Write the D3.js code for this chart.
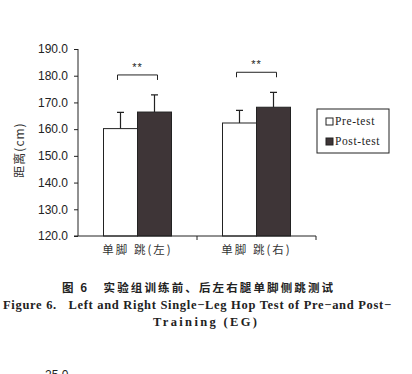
<!DOCTYPE html>
<html>
<head>
<meta charset="utf-8">
<script src="https://cdn.jsdelivr.net/npm/d3@7"></script>
<style>
  body { margin: 0; background: #fff; }
  svg { display: block; }
</style>
</head>
<body>
<div id="chart"></div>
<script>
(function(){

    // data
    var categories = ["单脚 跳(左)", "单脚 跳(右)"];
    var series = ["Pre-test", "Post-test"];
    var preMean = [160.2, 162.3];
    var preErr = [6.1, 4.7];
    var postMean = [166.4, 168.2];
    var postErr = [6.4, 5.6];
    var sigMarks = ["**", "**"];
    var yTicks = [120, 130, 140, 150, 160, 170, 180, 190];

    var width = 412, height = 374;
    var svg = d3.select("#chart").append("svg")
        .attr("width", width)
        .attr("height", height);

    var x0 = d3.scaleBand().domain(categories).range([78, 316]);
    var x1 = d3.scaleBand().domain(series)
        .range([x0.bandwidth() / 2 - 34, x0.bandwidth() / 2 + 34]);
    var y = d3.scaleLinear().domain([120, 190]).range([236, 49]);

    var colors = {"Pre-test": "#ffffff", "Post-test": "#3e3537"};

    var rows = categories.map(function(c, i){
        return {cat: c, vals: [
            {s: "Pre-test", v: preMean[i], e: preErr[i]},
            {s: "Post-test", v: postMean[i], e: postErr[i]}
        ], sig: sigMarks[i]};
    });

    // y axis
    var yAxis = svg.append("g")
        .attr("transform", "translate(78,0)")
        .call(d3.axisLeft(y).tickValues(yTicks).tickSize(4).tickPadding(6)
            .tickFormat(d3.format(".1f")));
    yAxis.select(".domain").attr("stroke", "#222").attr("d", "M0," + y(190) + "V" + y(120));
    yAxis.selectAll(".tick line").attr("stroke", "#222");
    yAxis.selectAll("text")
        .attr("font-family", "'Liberation Sans', Arial, sans-serif")
        .attr("font-size", "12px")
        .attr("fill", "#222");

    svg.append("text")
        .attr("transform", "translate(24,150) rotate(-90)")
        .attr("text-anchor", "middle")
        .attr("font-family", "'Noto Sans CJK SC', sans-serif")
        .attr("font-size", "12px")
        .attr("letter-spacing", "1px")
        .attr("fill", "#333")
        .text("距离(cm)");

    // bars
    var groups = svg.append("g").selectAll("g")
        .data(rows).enter().append("g")
        .attr("transform", function(d){ return "translate(" + x0(d.cat) + ",0)"; });

    groups.selectAll("rect")
        .data(function(d){ return d.vals; }).enter().append("rect")
        .attr("x", function(d){ return x1(d.s); })
        .attr("y", function(d){ return y(d.v); })
        .attr("width", x1.bandwidth())
        .attr("height", function(d){ return y(120) - y(d.v); })
        .attr("fill", function(d){ return colors[d.s]; })
        .attr("stroke", "#222")
        .attr("stroke-width", 1);

    // error bars, upward only
    groups.selectAll("path.err")
        .data(function(d){ return d.vals; }).enter().append("path")
        .attr("class", "err")
        .attr("fill", "none")
        .attr("stroke", "#222")
        .attr("stroke-width", 1.2)
        .attr("d", function(d){
            var cx = x1(d.s) + x1.bandwidth() / 2;
            return "M" + cx + "," + y(d.v) + "V" + y(d.v + d.e) +
                "M" + (cx - 3.5) + "," + y(d.v + d.e) + "H" + (cx + 3.5);
        });

    // significance brackets
    groups.append("path")
        .attr("fill", "none")
        .attr("stroke", "#222")
        .attr("d", function(d){
            var top = d3.max(d.vals, function(v){ return v.v + v.e; });
            var yy = y(top) - 20;
            var a = x1("Pre-test") + 14, b = x1("Post-test") + x1.bandwidth() - 14;
            return "M" + a + "," + (yy + 5) + "V" + yy + "H" + b + "V" + (yy + 5);
        });
    groups.append("text")
        .attr("x", x0.bandwidth() / 2)
        .attr("y", function(d){
            var top = d3.max(d.vals, function(v){ return v.v + v.e; });
            return y(top) - 24;
        })
        .attr("text-anchor", "middle")
        .attr("font-family", "'Liberation Sans', Arial, sans-serif")
        .attr("font-size", "11px")
        .attr("letter-spacing", "1px")
        .attr("fill", "#222")
        .text(function(d){ return d.sig; });

    // x axis
    var xAxis = svg.append("g")
        .attr("transform", "translate(0,236)")
        .call(d3.axisBottom(x0).tickSize(0).tickPadding(10));
    xAxis.select(".domain").attr("stroke", "#222").attr("d", "M74,0H316");
    xAxis.selectAll("text")
        .attr("font-family", "'Noto Sans CJK SC', sans-serif")
        .attr("font-size", "11.5px")
        .attr("letter-spacing", "2px")
        .attr("fill", "#333");
    xAxis.selectAll(".bnd")
        .data(categories.slice(1).concat(["end"])).enter().append("line")
        .attr("x1", function(d, i){ return x0.range()[0] + x0.bandwidth() * (i + 1); })
        .attr("x2", function(d, i){ return x0.range()[0] + x0.bandwidth() * (i + 1); })
        .attr("y1", 0).attr("y2", 4)
        .attr("stroke", "#222");

    // legend
    var leg = svg.append("g").attr("transform", "translate(317,109)");
    leg.append("rect")
        .attr("width", 72).attr("height", 44)
        .attr("fill", "#fff").attr("stroke", "#222");
    var li = leg.selectAll("g.item").data(series).enter().append("g")
        .attr("transform", function(d, i){ return "translate(9," + (9 + i * 20) + ")"; });
    li.append("rect")
        .attr("width", 7).attr("height", 7)
        .attr("fill", function(d){ return colors[d]; })
        .attr("stroke", "#222");
    li.append("text")
        .attr("x", 9).attr("y", 7)
        .attr("font-family", "'Liberation Serif', 'Times New Roman', serif")
        .attr("font-size", "11.5px")
        .attr("letter-spacing", "0.6px")
        .attr("fill", "#222")
        .text(function(d){ return d; });

    // captions
    svg.append("text")
        .attr("x", 62).attr("y", 292)
        .attr("textLength", 271)
        .attr("lengthAdjust", "spacing")
        .attr("font-family", "'Noto Sans CJK SC', sans-serif")
        .attr("font-size", "11.5px")
        .attr("font-weight", "bold")
        .attr("fill", "#222")
        .text("图 6\u00a0\u00a0\u00a0实验组训练前、后左右腿单脚侧跳测试");
    svg.append("text")
        .attr("x", 3).attr("y", 309)
        .attr("textLength", 388)
        .attr("lengthAdjust", "spacing")
        .attr("font-family", "'Liberation Serif', 'Times New Roman', serif")
        .attr("font-size", "12.5px")
        .attr("font-weight", "bold")
        .attr("fill", "#222")
        .attr("xml:space", "preserve")
        .text("Figure 6.   Left and Right Single\u2212Leg Hop Test of Pre\u2212and Post\u2212");
    svg.append("text")
        .attr("x", 153).attr("y", 326)
        .attr("textLength", 104)
        .attr("lengthAdjust", "spacing")
        .attr("font-family", "'Liberation Serif', 'Times New Roman', serif")
        .attr("font-size", "12.5px")
        .attr("font-weight", "bold")
        .attr("fill", "#222")
        .text("Training (EG)");
    svg.append("text")
        .attr("x", 45).attr("y", 379)
        .attr("font-family", "'Liberation Sans', Arial, sans-serif")
        .attr("font-size", "12px")
        .attr("fill", "#222")
        .text("25.0");

})();
</script>
</body>
</html>
